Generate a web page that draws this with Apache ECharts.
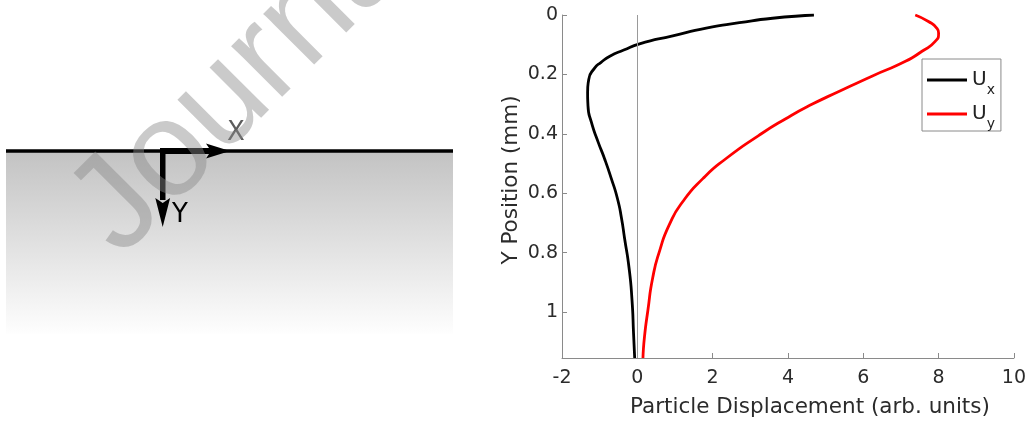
<!DOCTYPE html>
<html>
<head>
<meta charset="utf-8">
<script src="https://cdn.jsdelivr.net/npm/echarts@6/dist/echarts.min.js"></script>
<style>
html, body { margin: 0; padding: 0; background: #fff; }
#chart { width: 1029px; height: 423px; }
</style>
</head>
<body>
<div id="chart"></div>
<script>
// Ux: depth (mm) / displacement
var depthUx = [0, 0.011, 0.026, 0.044, 0.070, 0.097, 0.118, 0.139, 0.160, 0.178, 0.217, 0.261, 0.306, 0.361, 0.428, 0.484, 0.551, 0.617, 0.684, 0.751, 0.851, 0.962, 1.073, 1.155];
var dispUx  = [4.69, 3.59, 2.71, 1.83, 0.94, 0.06, -0.36, -0.73, -0.97, -1.13, -1.29, -1.32, -1.31, -1.22, -1.04, -0.87, -0.69, -0.53, -0.42, -0.34, -0.22, -0.14, -0.10, -0.07];

// Uy: depth (mm) / displacement
var depthUy = [0, 0.022, 0.044, 0.061, 0.089, 0.122, 0.156, 0.206, 0.256, 0.30, 0.35, 0.406, 0.484, 0.551, 0.628, 0.706, 0.795, 0.884, 0.995, 1.084, 1.155];
var dispUy  = [7.38, 7.73, 7.95, 8.0, 7.91, 7.56, 7.12, 6.23, 5.38, 4.65, 3.93, 3.22, 2.35, 1.74, 1.21, 0.85, 0.59, 0.41, 0.28, 0.19, 0.15];

var seriesNames = ['Ux', 'Uy'];
var xRange = [-2, 10];
var xStep = 2;
var yRange = [0, 1.155];
var yStep = 0.2;

function pairs(xs, ys) {
    var out = [];
    for (var i = 0; i < xs.length; i++) {
        out.push([xs[i], ys[i]]);
    }
    return out;
}

function initDisplacementChart() {
    var e = echarts.init(document.getElementById('chart'));
    var axisColor = '#8a8a8a';
    var textColor = '#2b2b2b';

    option = {
        animation: false,
        textStyle: { fontFamily: 'DejaVu Sans' },
        grid: { left: 562, top: 15, width: 454, height: 346 },
        legend: {
            data: seriesNames,
            orient: 'vertical',
            left: 922,
            top: 59,
            padding: [11, 6, 0, 5],
            itemGap: 7,
            itemWidth: 40,
            itemHeight: 3,
            icon: 'rect',
            borderColor: '#8a8a8a',
            borderWidth: 1,
            borderRadius: 0,
            backgroundColor: '#fff',
            formatter: function (name) {
                return '{u|U}{s|' + name.charAt(1) + '}';
            },
            textStyle: {
                rich: {
                    u: { fontSize: 20, lineHeight: 20, color: '#222', fontFamily: 'DejaVu Sans', verticalAlign: 'top' },
                    s: { fontSize: 14, lineHeight: 14, color: '#222', fontFamily: 'DejaVu Sans', verticalAlign: 'top', padding: [13, 0, 0, 0] }
                }
            }
        },
        xAxis: {
            type: 'value',
            min: xRange[0],
            max: xRange[1],
            interval: xStep,
            name: 'Particle Displacement (arb. units)',
            nameLocation: 'middle',
            nameGap: 38,
            nameTextStyle: { fontSize: 21.5, color: textColor, padding: [0, 0, 0, 44] },
            axisLine: { onZero: false, lineStyle: { color: axisColor } },
            axisTick: { inside: true, length: 5, lineStyle: { color: axisColor } },
            axisLabel: { fontSize: 19, color: textColor, margin: 11 },
            splitLine: { show: false }
        },
        yAxis: {
            type: 'value',
            inverse: true,
            min: yRange[0],
            max: yRange[1],
            interval: yStep,
            name: 'Y Position (mm)',
            nameLocation: 'middle',
            nameGap: 40,
            nameTextStyle: { fontSize: 21.5, color: textColor, padding: [0, 0, 0, 13] },
            axisLine: { show: true, onZero: false, lineStyle: { color: axisColor } },
            axisTick: { show: true, inside: true, length: 5, lineStyle: { color: axisColor } },
            axisLabel: { fontSize: 19, color: textColor, margin: 4, showMaxLabel: false },
            splitLine: { show: false }
        },
        series: [
            {
                name: seriesNames[0],
                type: 'line',
                data: pairs(dispUx, depthUx),
                smooth: 0.6,
                symbol: 'none',
                lineStyle: { color: '#000', width: 2.8 },
                itemStyle: { color: '#000' },
                markLine: {
                    silent: true,
                    symbol: 'none',
                    label: { show: false },
                    lineStyle: { color: '#9a9a9a', width: 1, type: 'solid' },
                    data: [{ xAxis: 0 }]
                },
                z: 3
            },
            {
                name: seriesNames[1],
                type: 'line',
                data: pairs(dispUy, depthUy),
                smooth: 0.6,
                symbol: 'none',
                lineStyle: { color: '#ff0000', width: 2.8 },
                itemStyle: { color: '#ff0000' },
                z: 3
            }
        ],
        // left panel: surface sketch with X/Y arrows and the watermark
        graphic: [
            {
                type: 'rect',
                z: 1,
                shape: { x: 6, y: 152, width: 447, height: 182 },
                style: {
                    fill: new echarts.graphic.LinearGradient(0, 0, 0, 1, [
                        { offset: 0, color: '#c3c3c3' },
                        { offset: 1, color: '#fefefe' }
                    ])
                }
            },
            {
                type: 'line',
                z: 2,
                shape: { x1: 6, y1: 151, x2: 453, y2: 151 },
                style: { stroke: '#000', lineWidth: 3.5 }
            },
            {
                type: 'rect',
                z: 2,
                shape: { x: 160, y: 148, width: 50, height: 6 },
                style: { fill: '#000' }
            },
            {
                type: 'polygon',
                z: 2,
                shape: { points: [[230, 151], [206, 143.5], [211, 151], [206, 158.5]] },
                style: { fill: '#000' }
            },
            {
                type: 'rect',
                z: 2,
                shape: { x: 160, y: 148, width: 5.5, height: 52 },
                style: { fill: '#000' }
            },
            {
                type: 'polygon',
                z: 2,
                shape: { points: [[162.7, 227], [155.3, 198], [162.7, 203], [170.1, 198]] },
                style: { fill: '#000' }
            },
            {
                type: 'text',
                z: 2,
                x: 227,
                y: 120,
                style: { text: 'X', font: '26px "DejaVu Sans"', fill: '#5c5c5c' }
            },
            {
                type: 'text',
                z: 2,
                x: 172,
                y: 202,
                style: { text: 'Y', font: '26px "DejaVu Sans"', fill: '#000' }
            },
            {
                type: 'text',
                z: 10,
                x: 142,
                y: 280,
                rotation: Math.PI / 4,
                style: {
                    text: 'Journal Pre-proof',
                    font: '136px "Liberation Sans"',
                    fill: 'rgba(137,137,137,0.45)',
                    verticalAlign: 'bottom'
                }
            }
        ]
    };
    e.setOption(option);
}

initDisplacementChart();
</script>
</body>
</html>
